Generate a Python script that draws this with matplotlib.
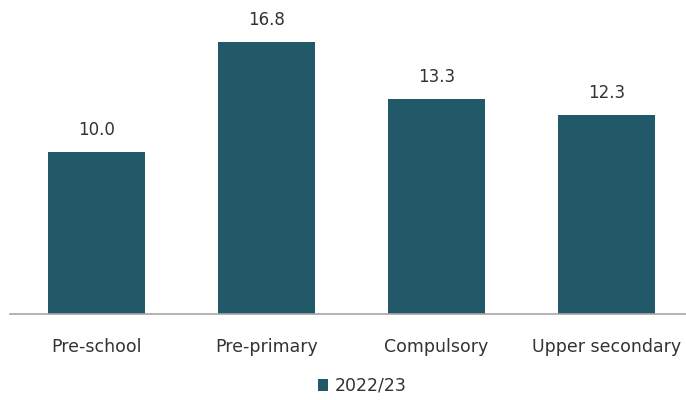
import matplotlib
matplotlib.use('Agg')
import matplotlib.pyplot as plt

categories = ['Pre-school', 'Pre-primary', 'Compulsory', 'Upper secondary']
values = [10.0, 16.8, 13.3, 12.3]
series_name = '2022/23'

BAR = '#215968'
INK = '#333333'

fig = plt.figure(figsize=(6.86, 4.0), dpi=100)
ax = fig.add_axes([10 / 686, 1 - 314 / 400, 676 / 686, 314 / 400])

x = range(len(categories))
bars = ax.bar(x, values, width=0.57, color=BAR, label=series_name)
for b, v in zip(bars, values):
    ax.text(b.get_x() + b.get_width() / 2, v + 0.8, f'{v:.1f}',
            ha='center', va='bottom', fontsize=12, color=INK)

ax.set_xlim(-0.509, 3.468)
ax.set_ylim(0, 19.4)
ax.set_xticks(list(x))
ax.set_xticklabels(categories, fontsize=12.5, color=INK)
ax.tick_params(axis='x', length=0, pad=17)
ax.set_yticks([])
for s in ['top', 'right', 'left']:
    ax.spines[s].set_visible(False)
ax.spines['bottom'].set_color('#a6a6a6')
ax.spines['bottom'].set_linewidth(1.2)

fig.legend(handles=[bars], labels=[series_name], loc='center',
           bbox_to_anchor=(0.528, 1 - 386 / 400), frameon=False,
           fontsize=12.5, handlelength=0.6, handleheight=0.7,
           handletextpad=0.4, labelcolor=INK)

fig.savefig('out.png', dpi=100, facecolor='white')
